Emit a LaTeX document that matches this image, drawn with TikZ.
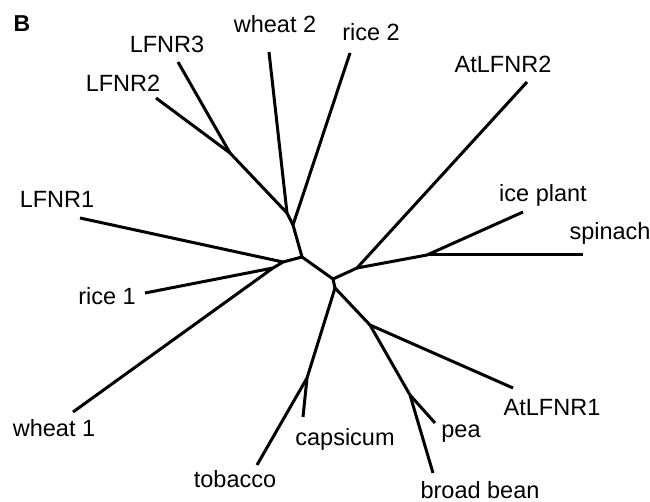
\documentclass[tikz,border=0pt]{standalone}
\usepackage{fontspec}
\setmainfont{Liberation Sans}
\begin{document}
\begin{tikzpicture}[x=1pt,y=-1pt,
  branch/.style={line width=3pt,line join=round},
  lbl/.style={anchor=base,inner sep=0pt,font=\fontsize{23.5}{26}\selectfont}]
\useasboundingbox (0,0) rectangle (650,502);
\node[anchor=base,inner sep=0pt,font=\fontsize{23}{26}\selectfont\bfseries] (panel) at (22,32) {B};
% internal nodes
\coordinate (jL23) at (230,153);
\coordinate (jW) at (287,213);
\coordinate (nA) at (293,225);
\coordinate (nB) at (302,257);
\coordinate (nLW) at (283,262);
\coordinate (jR1) at (273,268);
\coordinate (nC) at (333,279);
\coordinate (nE) at (357,268);
\coordinate (nF) at (427,255);
\coordinate (nD) at (335,288);
\coordinate (nG) at (307,378);
\coordinate (nH) at (370,325);
\coordinate (nI) at (410,395);
% tips
\coordinate (tL3) at (178,62);
\coordinate (tL2) at (156,98);
\coordinate (tW2) at (269,52);
\coordinate (tR2) at (350,53);
\coordinate (tL1) at (80,218);
\coordinate (tR1) at (145,293);
\coordinate (tW1) at (73,412);
\coordinate (tAt2) at (527,82);
\coordinate (tIce) at (523,212);
\coordinate (tSp) at (583,255);
\coordinate (tCap) at (303,417);
\coordinate (tTob) at (257,465);
\coordinate (tAt1) at (513,388);
\coordinate (tPea) at (435,423);
\coordinate (tBr) at (433,473);
% branches
\draw[branch] (tL3) -- (jL23);
\draw[branch] (tL2) -- (jL23) -- (jW);
\draw[branch] (tW2) -- (jW) -- (nA);
\draw[branch] (tR2) -- (nA) -- (nB);
\draw[branch] (nB) -- (nLW);
\draw[branch] (tL1) -- (nLW) -- (jR1);
\draw[branch] (tR1) -- (jR1) -- (tW1);
\draw[branch] (nB) -- (nC);
\draw[branch] (nC) -- (nE) -- (tAt2);
\draw[branch] (nE) -- (nF) -- (tIce);
\draw[branch] (nF) -- (tSp);
\draw[branch] (nC) -- (nD);
\draw[branch] (nD) -- (nG) -- (tTob);
\draw[branch] (nG) -- (tCap);
\draw[branch] (nD) -- (nH) -- (tAt1);
\draw[branch] (nH) -- (nI) -- (tBr);
\draw[branch] (nI) -- (tPea);
% labels
\node[lbl] (lL3) at (167,53) {LFNR3};
\node[lbl] (lL2) at (123,92) {LFNR2};
\node[lbl] (lW2) at (275,33) {wheat 2};
\node[lbl] (lR2) at (371,41) {rice 2};
\node[lbl] (lL1) at (57,208) {LFNR1};
\node[lbl] (lAt2) at (503,73) {AtLFNR2};
\node[lbl] (lIce) at (543,202) {ice plant};
\node[lbl] (lSp) at (610,240) {spinach};
\node[lbl] (lR1) at (107,305) {rice 1};
\node[lbl] (lW1) at (54,436) {wheat 1};
\node[lbl] (lTob) at (235,487) {tobacco};
\node[lbl] (lCap) at (345,445) {capsicum};
\node[lbl] (lPea) at (461,437) {pea};
\node[lbl] (lBr) at (480,498) {broad bean};
\node[lbl] (lAt1) at (552,415) {AtLFNR1};
\end{tikzpicture}
\end{document}
